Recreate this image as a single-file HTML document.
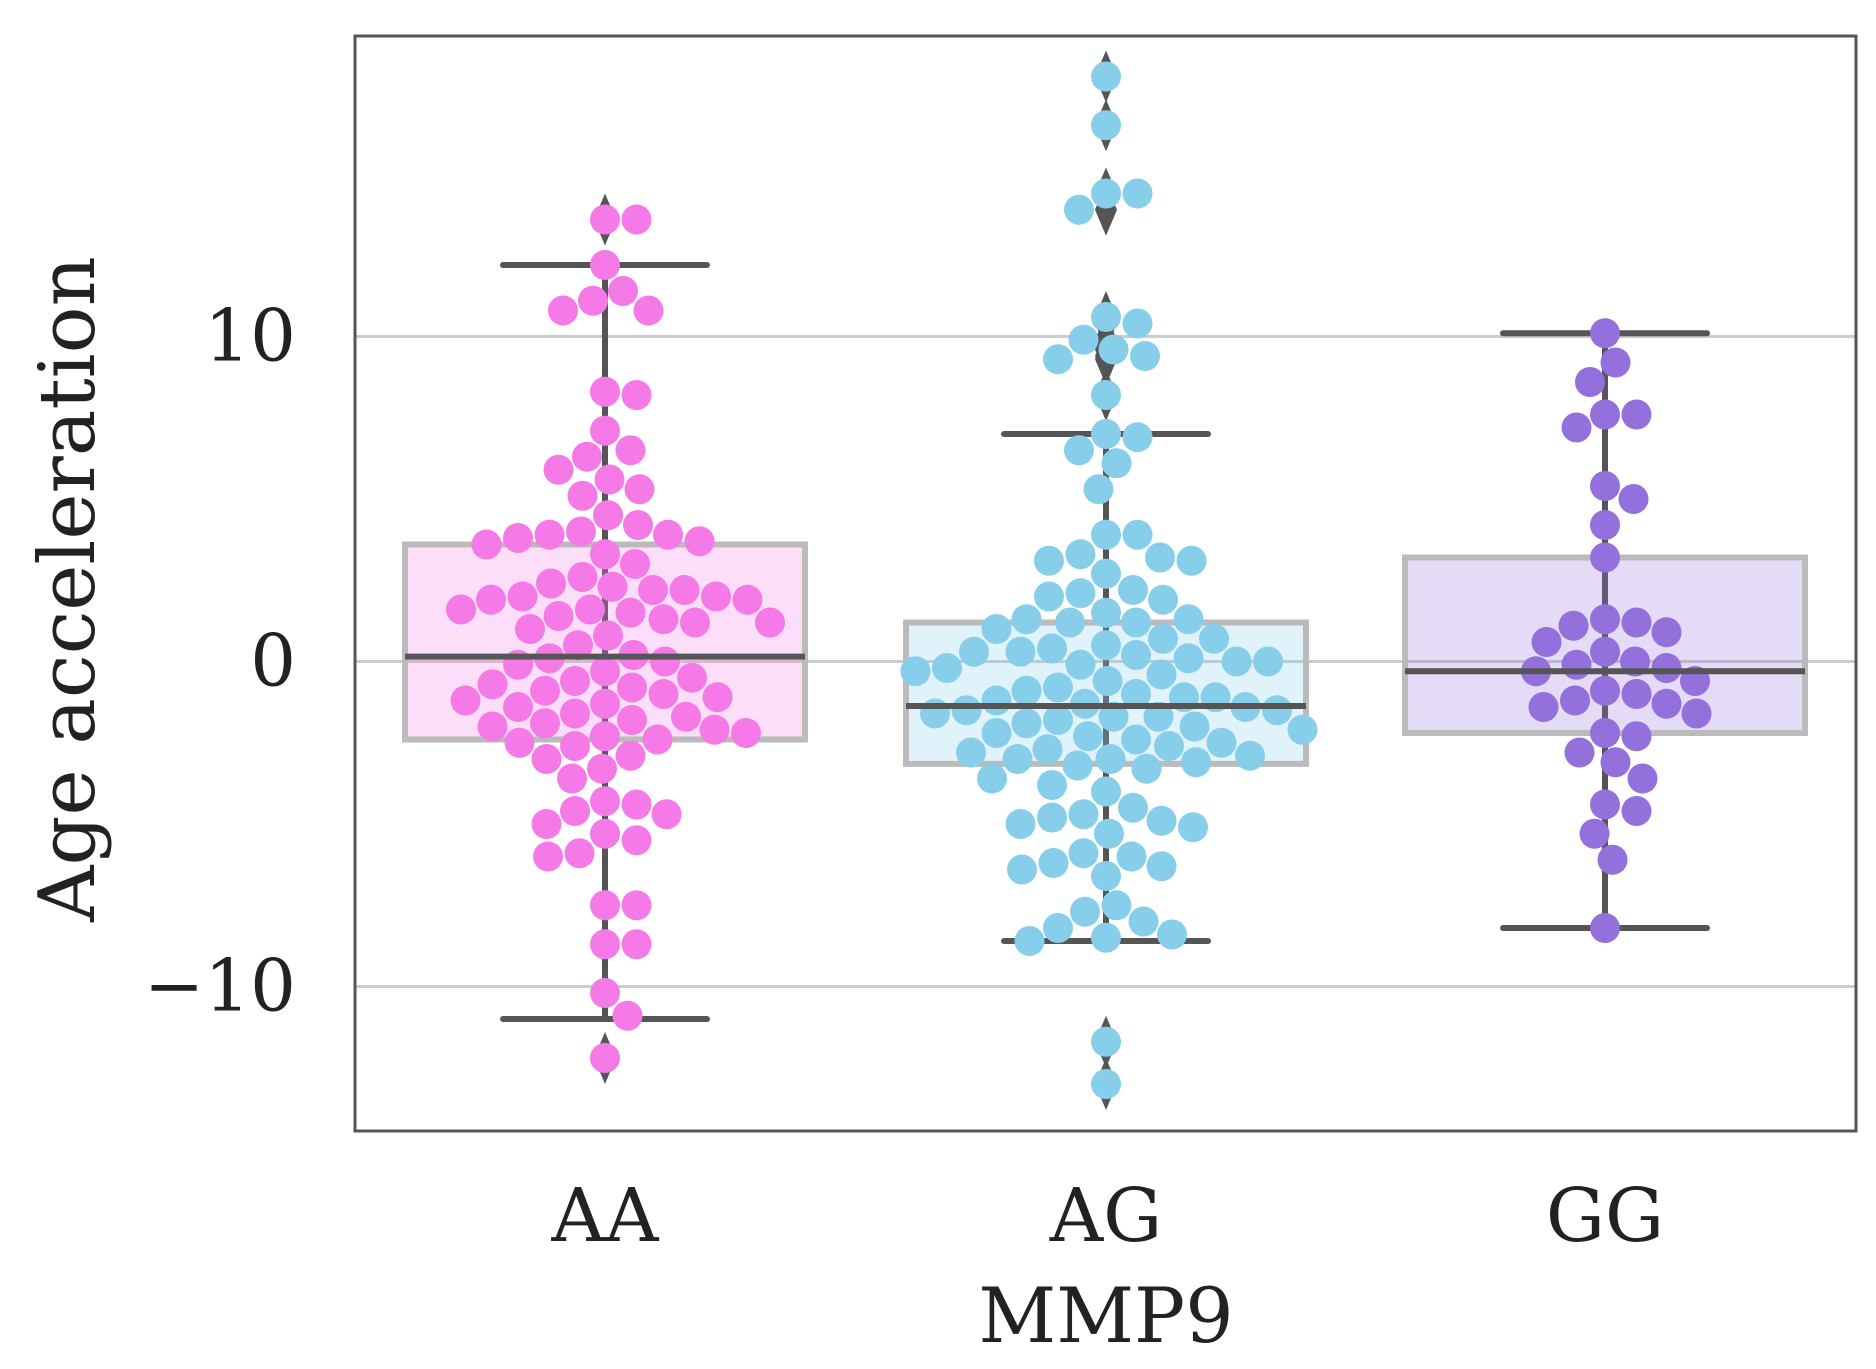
<!DOCTYPE html>
<html><head><meta charset="utf-8"><style>
html,body{margin:0;padding:0;background:#fff}
svg{display:block}
text{font-family:"DejaVu Serif","Liberation Serif",serif;fill:#222}
</style></head><body>
<svg id="chart" width="1876" height="1369"></svg>
<script>
const categories=["AA","AG","GG"];
const colors=["#f57ae8","#87ceeb","#9370db"];
const yTicks=[10,0,-10];
const yTickLabels=["10","0","\u221210"];
const aaValues=[13.6,13.6,12.2,11.4,11.1,10.8,10.8,8.3,8.2,7.1,6.5,6.3,5.9,5.6,5.3,5.1,4.5,4.2,4.0,3.9,3.9,3.8,3.7,3.6,3.3,3.0,2.6,2.4,2.3,2.2,2.2,2.0,2.0,1.9,1.9,1.6,1.6,1.5,1.4,1.3,1.2,1.2,1.0,0.8,0.5,0.2,0.1,0.0,-0.1,-0.3,-0.5,-0.6,-0.7,-0.8,-0.9,-1.0,-1.1,-1.2,-1.3,-1.4,-1.6,-1.7,-1.8,-1.9,-2.0,-2.1,-2.2,-2.3,-2.4,-2.5,-2.6,-2.9,-3.0,-3.3,-3.6,-4.3,-4.4,-4.6,-4.7,-5.0,-5.3,-5.5,-5.9,-6.0,-7.5,-7.5,-8.7,-8.7,-10.2,-10.9,-12.2];
const agValues=[18.0,16.5,14.4,14.4,13.9,10.6,10.4,9.9,9.6,9.4,9.3,8.2,7.0,6.9,6.5,6.1,5.3,3.9,3.9,3.3,3.2,3.1,3.1,2.7,2.1,2.2,2.0,1.9,1.5,1.3,1.3,1.2,1.2,1.0,0.7,0.7,0.5,0.4,0.3,0.3,0.2,0.1,0.0,0.0,-0.1,-0.2,-0.3,-0.4,-0.6,-0.8,-0.9,-1.0,-1.1,-1.1,-1.2,-1.3,-1.4,-1.5,-1.5,-1.6,-1.7,-1.7,-1.8,-1.9,-2.0,-2.1,-2.2,-2.3,-2.4,-2.5,-2.6,-2.7,-2.8,-2.9,-3.0,-3.0,-3.1,-3.2,-3.3,-3.6,-3.8,-4.0,-4.5,-4.7,-4.8,-4.9,-5.0,-5.1,-5.3,-5.9,-6.0,-6.2,-6.3,-6.4,-6.6,-7.5,-7.7,-8.0,-8.2,-8.4,-8.5,-8.6,-11.7,-13.0];
const ggValues=[10.1,9.2,8.6,7.6,7.6,7.2,5.4,5.0,4.2,3.2,1.3,1.2,1.1,0.9,0.6,0.3,0.0,-0.1,-0.2,-0.3,-0.6,-0.9,-1.0,-1.2,-1.3,-1.4,-1.6,-2.2,-2.3,-2.8,-3.1,-3.6,-4.4,-4.6,-5.3,-6.1,-8.2];
const boxQ1=[-2.4,-3.15,-2.2];
const boxMedian=[0.15,-1.37,-0.3];
const boxQ3=[3.6,1.2,3.2];
const whiskerLow=[-11.0,-8.6,-8.2];
const whiskerHigh=[12.2,7.0,10.1];
const outliers=[[13.6,-12.2],[18.0,16.5,14.4,13.9,10.6,10.4,9.9,9.6,9.4,9.3,8.2,-11.7,-13.0],[]];
const groups=[aaValues,agValues,ggValues];

const NS="http://www.w3.org/2000/svg";
const svg=document.getElementById("chart");
const L=355,R=1856,T=36,B=1131;
const yScale=v=>661.5-v*32.5;
const xScale=i=>[605,1106,1605][i];
function mk(tag,attrs,parent){const e=document.createElementNS(NS,tag);for(const k in attrs)e.setAttribute(k,attrs[k]);(parent||svg).appendChild(e);return e;}

yTicks.forEach((t,i)=>{
  const g=mk("line",{x1:L,x2:R,y1:yScale(t),y2:yScale(t),stroke:"#cccccc","stroke-width":3});
  
  
  const tx=mk("text",{x:296,y:yScale(t)+24,"text-anchor":"end","font-size":72});
  tx.textContent=yTickLabels[i];
  
  
});

const boxHalf=200,capHalf=102;
categories.forEach((c,i)=>{
  const cx=xScale(i);
  const wl=mk("line",{x1:cx,x2:cx,y1:yScale(whiskerHigh[i]),y2:yScale(whiskerLow[i]),stroke:"#555","stroke-width":6});
  
  
  [whiskerHigh[i],whiskerLow[i]].forEach(v=>{
    const cp=mk("line",{x1:cx-capHalf,x2:cx+capHalf,y1:yScale(v),y2:yScale(v),stroke:"#555","stroke-width":6,"stroke-linecap":"round"});
    
    
  });
  const bx=mk("rect",{x:cx-boxHalf,y:yScale(boxQ3[i]),width:boxHalf*2,height:yScale(boxQ1[i])-yScale(boxQ3[i]),fill:colors[i],"fill-opacity":0.25,stroke:"#bbbbbb","stroke-width":6});
  
  
  outliers[i].forEach(v=>{
    const y=yScale(v);
    const d=mk("polygon",{points:`${cx},${y-26} ${cx+11},${y} ${cx},${y+26} ${cx-11},${y}`,fill:"#555"});
    
    
  });
});

const r=15,dia=31;
groups.forEach((vals,i)=>{
  const cx=xScale(i);
  const placed=[];
  vals.slice().sort((a,b)=>b-a).forEach(v=>{
    const y=yScale(v);
    let best=0;
    for(let k=0;k<300;k++){
      const cand=k===0?0:(k%2?1:-1)*Math.ceil(k/2)*1.5;
      if(placed.every(p=>Math.hypot(p[0]-cand,p[1]-y)>=dia)){best=cand;break;}
    }
    placed.push([best,y]);
    const ci=mk("circle",{cx:cx+best,cy:y,r:r,fill:colors[i]});
    
    
  });
  const mline=mk("line",{x1:cx-boxHalf,x2:cx+boxHalf,y1:yScale(boxMedian[i]),y2:yScale(boxMedian[i]),stroke:"#555","stroke-width":6});
  
  
  const xl=mk("text",{x:cx,y:1241,"text-anchor":"middle","font-size":74});
  xl.textContent=categories[i];
  
  
});

const fr=mk("rect",{x:L,y:T,width:R-L,height:B-T,fill:"none",stroke:"#555","stroke-width":3});


const xt=mk("text",{x:1106,y:1342,"text-anchor":"middle","font-size":76});
xt.textContent="MMP9";


const yt=mk("text",{x:0,y:0,"text-anchor":"middle","font-size":78,transform:"translate(94,589) rotate(-90)"});
yt.textContent="Age acceleration";


</script>
</body></html>
